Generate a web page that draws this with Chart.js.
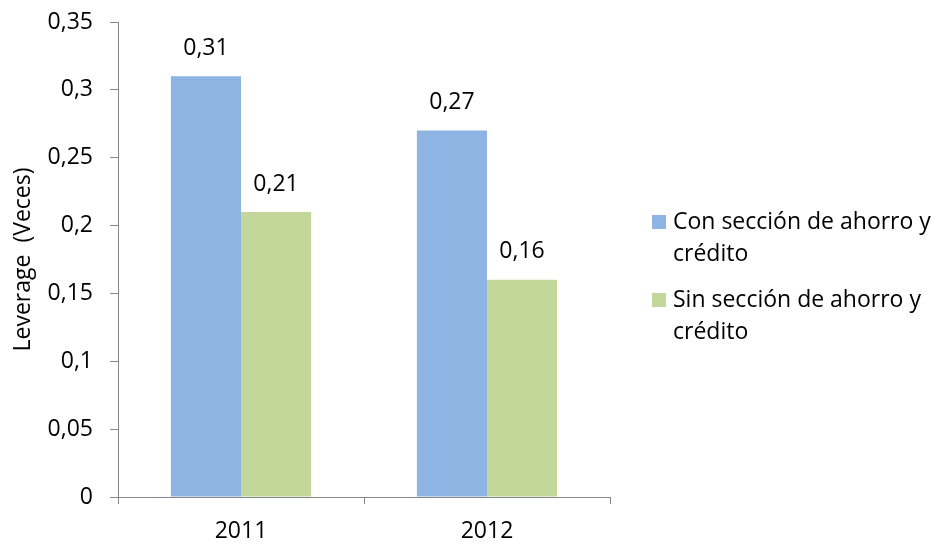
<!DOCTYPE html>
<html>
<head>
<meta charset="utf-8">
<script src="https://cdn.jsdelivr.net/npm/chart.js@4/dist/chart.umd.min.js"></script>
<style>
  body { margin: 0; background: #fff; }
  #wrap { width: 939px; height: 544px; }
</style>
</head>
<body>
<div id="wrap"><canvas id="myChart"></canvas></div>
<script>
// chart data
const years = ['2011', '2012'];
const conSeccion = [0.31, 0.27];
const sinSeccion = [0.21, 0.16];
const seriesNames = [['Con sección de ahorro y', 'crédito'], ['Sin sección de ahorro y', 'crédito']];
const yTicks = [0, 0.05, 0.1, 0.15, 0.2, 0.25, 0.3, 0.35];

const FONT = '"Open Sans", sans-serif';
const SIZE = 23;

// decimal comma like the original
function fmt(v) {
  return String(Math.round(v * 100) / 100).replace('.', ',');
}

// value labels above each bar
const barLabels = {
  id: 'barLabels',
  afterDatasetsDraw(chart) {
    let ctx = chart.ctx;
    ctx.save();
    ctx.font = SIZE + 'px ' + FONT;
    ctx.fillStyle = '#000';
    ctx.textAlign = 'center';
    ctx.textBaseline = 'middle';
    chart.data.datasets.forEach((ds, i) => {
      chart.getDatasetMeta(i).data.forEach((bar, j) => {
        ctx.fillText(fmt(ds.data[j]), bar.x, bar.y - 28);
      });
    });
    ctx.restore();
  }
};

// legend on the right with wrapped text
const sideLegend = {
  id: 'sideLegend',
  afterDraw(chart) {
    let ctx = chart.ctx;
    ctx.save();
    ctx.font = SIZE + 'px ' + FONT;
    ctx.textBaseline = 'middle';
    ctx.textAlign = 'left';
    let top = 222;
    chart.data.datasets.forEach((ds, i) => {
      let y = top + i * 78;
      ctx.fillStyle = ds.backgroundColor;
      ctx.fillRect(652, y - 7, 14, 14);
      ctx.fillStyle = '#000';
      seriesNames[i].forEach((line, k) => {
        ctx.fillText(line, 673, y + k * 32);
      });
    });
    ctx.restore();
  }
};

let ctx = document.getElementById('myChart').getContext('2d');
let myChart = new Chart(ctx, {
  type: 'bar',
  data: {
    labels: years,
    datasets: [{
      data: conSeccion,
      backgroundColor: '#8EB4E3',
      barPercentage: 1,
      categoryPercentage: 0.57
    }, {
      data: sinSeccion,
      backgroundColor: '#C4D79B',
      barPercentage: 1,
      categoryPercentage: 0.57
    }]
  },
  options: {
    responsive: true,
    maintainAspectRatio: false,
    animation: false,
    layout: { padding: { left: 10, right: 329, top: 22, bottom: 0 } },
    plugins: {
      legend: { display: false },
      tooltip: { enabled: false }
    },
    scales: {
      x: {
        grid: { display: true, drawOnChartArea: false, color: '#868686', tickLength: 7 },
        border: { color: '#868686', width: 1 },
        ticks: { color: '#000', font: { family: FONT, size: SIZE }, padding: 14 },
        afterFit(scale) { scale.height = 47; scale.paddingLeft = 0; scale.paddingRight = 0; }
      },
      y: {
        min: 0,
        max: 0.35,
        afterBuildTicks(scale) { scale.ticks = yTicks.map(v => ({ value: v })); },
        grid: { display: true, drawOnChartArea: false, color: '#868686', tickLength: 8 },
        border: { color: '#868686', width: 1 },
        ticks: {
          color: '#000',
          font: { family: FONT, size: SIZE },
          padding: 17,
          callback: v => fmt(v)
        },
        title: {
          display: true,
          text: 'Leverage  (Veces)',
          color: '#000',
          font: { family: FONT, size: SIZE },
          padding: { top: 0, bottom: 8 }
        },
        afterFit(scale) { scale.width = 108; scale.paddingTop = 0; scale.paddingBottom = 0; }
      }
    }
  },
  plugins: [barLabels, sideLegend]
});
</script>
</body>
</html>
